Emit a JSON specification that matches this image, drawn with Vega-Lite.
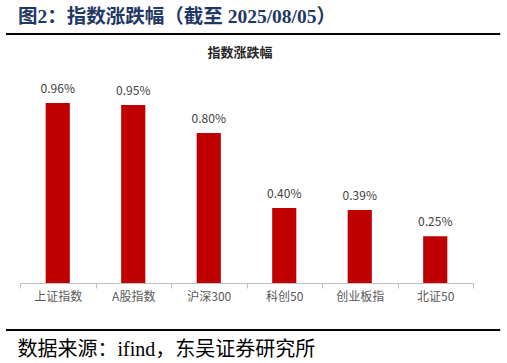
{
  "$schema": "https://vega.github.io/schema/vega-lite/v6.json",
  "autosize": {"type": "none"},
  "width": 453,
  "height": 225,
  "padding": {"left": 20, "top": 58, "right": 34, "bottom": 80},
  "background": "white",
  "title": {
    "text": "图2：指数涨跌幅（截至 2025/08/05）",
    "anchor": "start",
    "frame": "group",
    "dx": -2,
    "offset": -9,
    "baseline": "alphabetic",
    "font": "Liberation Serif, Noto Sans CJK SC",
    "fontSize": 19.5,
    "fontWeight": "bold",
    "color": "#1F3864"
  },
  "data": {
    "values": [
      {"name": "上证指数", "value": 0.0096},
      {"name": "A股指数", "value": 0.0095},
      {"name": "沪深300", "value": 0.0080},
      {"name": "科创50", "value": 0.0040},
      {"name": "创业板指", "value": 0.0039},
      {"name": "北证50", "value": 0.0025}
    ]
  },
  "layer": [
    {
      "mark": {"type": "bar", "color": "#C00000", "width": {"band": 0.32}},
      "encoding": {
        "x": {
          "field": "name",
          "type": "nominal",
          "sort": null,
          "scale": {"paddingInner": 0, "paddingOuter": 0},
          "axis": {
            "orient": "bottom",
            "title": "数据来源：ifind，东吴证券研究所",
            "titleAnchor": "start",
            "titleAlign": "left",
            "titleX": -3,
            "titleY": 66,
            "titleBaseline": "middle",
            "titleFont": "Liberation Serif, Noto Sans CJK SC",
            "titleFontSize": 20,
            "titleFontWeight": "normal",
            "titleColor": "#000000",
            "labelAngle": 0,
            "labelFont": "Noto Sans CJK SC",
            "labelFontSize": 12,
            "labelColor": "#595959",
            "labelPadding": 3,
            "domainColor": "#BFBFBF",
            "tickColor": "#BFBFBF",
            "tickSize": 5,
            "tickBand": "extent",
            "grid": false
          }
        },
        "y": {
          "field": "value",
          "type": "quantitative",
          "scale": {"domain": [0, 0.012], "nice": false, "zero": true},
          "axis": null
        }
      }
    },
    {
      "mark": {"type": "text", "baseline": "middle", "dy": -14, "font": "Noto Sans CJK SC", "fontSize": 12, "color": "#404040"},
      "encoding": {
        "x": {
          "field": "name",
          "type": "nominal",
          "sort": null,
          "scale": {"paddingInner": 0, "paddingOuter": 0},
          "axis": {
            "orient": "top",
            "labels": false,
            "ticks": false,
            "domain": false,
            "grid": false,
            "title": "指数涨跌幅",
            "titleX": 219.5,
            "titleY": -6,
            "titleAlign": "center",
            "titleBaseline": "middle",
            "titleFont": "Noto Sans CJK SC",
            "titleFontSize": 13,
            "titleFontWeight": "bold",
            "titleColor": "#262626"
          }
        },
        "y": {"field": "value", "type": "quantitative"},
        "text": {"field": "value", "type": "quantitative", "format": ".2%"}
      }
    },
    {
      "data": {"values": [{"line": "top", "y": 0.01328}, {"line": "bottom", "y": -0.002507}]},
      "mark": {"type": "rule", "color": "#000000", "strokeWidth": 2, "clip": false},
      "encoding": {
        "x": {"datum": -0.031, "type": "quantitative", "scale": {"domain": [0, 1], "nice": false, "zero": false}, "axis": null},
        "x2": {"datum": 1.06},
        "y": {"field": "y", "type": "quantitative"}
      }
    }
  ],
  "resolve": {"scale": {"x": "independent"}, "axis": {"x": "independent"}},
  "config": {"view": {"stroke": null}}
}
